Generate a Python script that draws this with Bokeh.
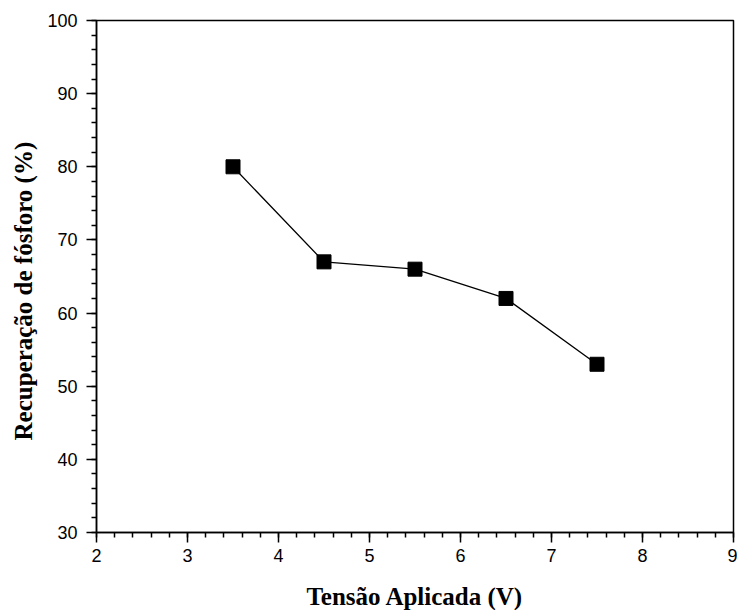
from bokeh.plotting import figure
from bokeh.embed import file_html
from bokeh.resources import INLINE
from bokeh.models import Range1d, FixedTicker, Title

tensao = [3.5, 4.5, 5.5, 6.5, 7.5]
recuperacao = [80, 67, 66, 62, 53]
x_ticks = [2, 3, 4, 5, 6, 7, 8, 9]
y_ticks = [30, 40, 50, 60, 70, 80, 90, 100]
x_title = "Tensão Aplicada (V)"
y_title = "Recuperação de fósforo (%)"

p = figure(frame_width=637, frame_height=512, output_backend="svg", toolbar_location=None,
           x_range=Range1d(2, 9), y_range=Range1d(30, 100),
           min_border_left=96, min_border_right=4, min_border_top=20, min_border_bottom=70)
p.width = 737
p.height = 602
p.grid.visible = False
p.outline_line_color = "black"
p.outline_line_width = 1.5
p.background_fill_color = "white"
p.border_fill_color = "white"

p.line(tensao, recuperacao, line_color="black", line_width=1.3)
p.scatter(tensao, recuperacao, marker="square", size=14, fill_color="black", line_color="black")

x_minor = [2 + i * 0.2 for i in range(36)]
y_minor = [30 + i * 2 for i in range(36)]
p.xaxis.ticker = FixedTicker(ticks=x_ticks, minor_ticks=x_minor)
p.yaxis.ticker = FixedTicker(ticks=y_ticks, minor_ticks=y_minor)

for ax in (p.xaxis[0], p.yaxis[0]):
    ax.axis_line_width = 1.5
    ax.axis_line_color = "black"
    ax.major_tick_in = 0
    ax.major_tick_out = 10
    ax.minor_tick_in = 0
    ax.minor_tick_out = 5
    ax.major_tick_line_width = 1.5
    ax.minor_tick_line_width = 1.5
    ax.major_tick_line_color = "black"
    ax.minor_tick_line_color = "black"
    ax.major_label_text_font = "Liberation Sans"
    ax.major_label_text_font_size = "18px"
    ax.major_label_text_color = "black"
    ax.axis_label_text_font = "Liberation Serif"
    ax.axis_label_text_font_style = "bold"
    ax.axis_label_text_font_size = "25px"
    ax.axis_label_text_color = "black"

p.xaxis.axis_label = x_title
p.xaxis.major_label_standoff = 6
p.yaxis.major_label_standoff = 9
p.xaxis.axis_label_standoff = 18

# y-axis title as a side title, shifted slightly below the frame centre as in the reference
p.add_layout(Title(text=y_title, align="left", offset=92, standoff=15,
                   text_font="Liberation Serif", text_font_style="bold", text_font_size="25px",
                   text_color="black"), "left")

open("out.html", "w").write(file_html(p, INLINE))
